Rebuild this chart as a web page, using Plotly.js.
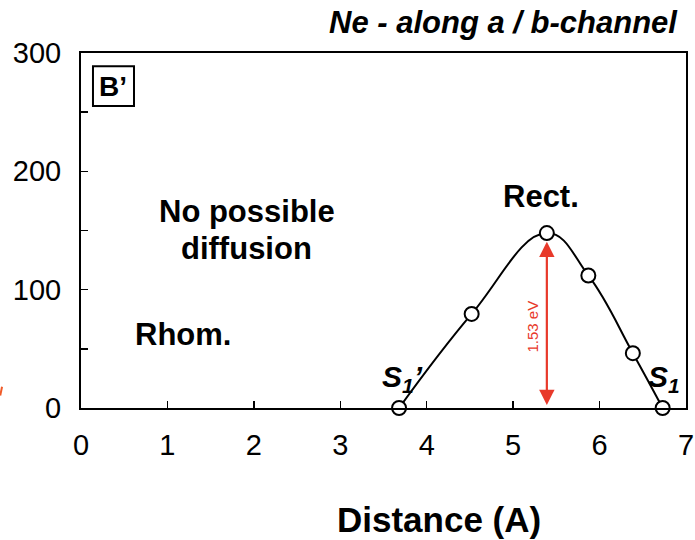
<!DOCTYPE html>
<html>
<head>
<meta charset="utf-8">
<script src="https://cdn.plot.ly/plotly-3.0.1.min.js"></script>
<style>html,body{margin:0;padding:0;background:#fff;}#chart{width:695px;height:540px;}</style>
</head>
<body>
<div id="chart"></div>
<script>
// Data
var distance = [3.68, 4.52, 5.39, 5.87, 6.385, 6.73];
var energy = [0, 79.5, 147.8, 112, 46.3, 0];
var xTicks = [0, 1, 2, 3, 4, 5, 6, 7];
var yTicks = [0, 100, 200, 300];
var barrierLabel = '1.53 eV';
var barrierX = 5.39;
var barrierTop = 147.8;
var chartTitle = 'Ne - along a / b-channel';
var xTitle = 'Distance (A)';

var font = 'Liberation Sans, Arial, Helvetica, sans-serif';
var red = '#e8392a';

var trace = {
  x: distance, y: energy,
  mode: 'lines+markers',
  line: {shape: 'spline', smoothing: 1.2, color: '#000', width: 2},
  marker: {symbol: 'circle', size: 14, color: '#fff', line: {color: '#000', width: 2}},
  cliponaxis: false,
  hoverinfo: 'skip'
};

var layout = {
  width: 695, height: 540,
  margin: {l: 81, r: 9, t: 53, b: 132},
  paper_bgcolor: '#fff', plot_bgcolor: '#fff',
  showlegend: false,
  font: {family: font, color: '#000'},
  xaxis: {
    range: [0, 7], tickvals: xTicks, ticks: 'inside', ticklen: 7, tickwidth: 1.5, tickcolor: '#000',
    showline: true, linecolor: '#000', linewidth: 2, mirror: true, showgrid: false, zeroline: false,
    tickfont: {size: 29, family: font}, ticklabelstandoff: 10, fixedrange: true
  },
  yaxis: {
    range: [0, 300], tickvals: yTicks, ticks: 'inside', ticklen: 7, tickwidth: 1.5, tickcolor: '#000',
    minor: {dtick: 50, ticks: 'inside', ticklen: 7, tickwidth: 1.5, tickcolor: '#000', showgrid: false},
    showline: true, linecolor: '#000', linewidth: 2, mirror: true, showgrid: false, zeroline: false,
    tickfont: {size: 29, family: font}, ticklabelstandoff: 12, fixedrange: true
  },
  shapes: [
    {type: 'rect', xref: 'paper', yref: 'paper', x0: 0.0198, x1: 0.0876, y0: 0.851, y1: 0.963,
     line: {color: '#000', width: 2}, fillcolor: 'rgba(0,0,0,0)'},
    {type: 'line', xref: 'paper', yref: 'paper', x0: -0.1305, x1: -0.1335, y0: 0.06, y1: 0.035,
     line: {color: '#f05a28', width: 2}}
  ],
  annotations: [
    {xref: 'paper', yref: 'paper', x: 0.99, y: 1.087, xanchor: 'right', yanchor: 'middle',
     text: '<b><i>' + chartTitle + '</i></b>', showarrow: false, font: {size: 31, family: font}},
    {xref: 'paper', yref: 'paper', x: 0.0537, y: 0.907, xanchor: 'center', yanchor: 'middle',
     text: '<b>B’</b>', showarrow: false, font: {size: 28, family: font}},
    {xref: 'paper', yref: 'paper', x: 0.592, y: -0.315, xanchor: 'center', yanchor: 'middle',
     text: '<b>' + xTitle + '</b>', showarrow: false, font: {size: 35, family: font}},
    {xref: 'x', yref: 'y', x: 1.92, y: 166, xanchor: 'center', yanchor: 'middle',
     text: '<b>No possible</b>', showarrow: false, font: {size: 31, family: font}},
    {xref: 'x', yref: 'y', x: 1.92, y: 135, xanchor: 'center', yanchor: 'middle',
     text: '<b>diffusion</b>', showarrow: false, font: {size: 31, family: font}},
    {xref: 'x', yref: 'y', x: 1.18, y: 62, xanchor: 'center', yanchor: 'middle',
     text: '<b>Rhom.</b>', showarrow: false, font: {size: 31, family: font}},
    {xref: 'x', yref: 'y', x: 5.32, y: 179, xanchor: 'center', yanchor: 'middle',
     text: '<b>Rect.</b>', showarrow: false, font: {size: 31, family: font}},
    {xref: 'x', yref: 'y', x: 3.72, y: 25, xanchor: 'center', yanchor: 'middle',
     text: '<b><i>S<sub>1</sub>’</i></b>', showarrow: false, font: {size: 30, family: font}},
    {xref: 'x', yref: 'y', x: 6.75, y: 25, xanchor: 'center', yanchor: 'middle',
     text: '<b><i>S<sub>1</sub></i></b>', showarrow: false, font: {size: 30, family: font}},
    {xref: 'x', yref: 'y', x: 5.22, y: 69, xanchor: 'center', yanchor: 'middle', textangle: -90,
     text: barrierLabel, showarrow: false, font: {size: 15, family: font, color: red}},
    {xref: 'x', yref: 'y', axref: 'x', ayref: 'y', x: barrierX, y: 2.5, ax: barrierX, ay: barrierTop - 6,
     text: '', showarrow: true, arrowside: 'end+start', arrowhead: 2, arrowsize: 1.4, arrowwidth: 2.2,
     arrowcolor: red, standoff: 0, startstandoff: 0}
  ]
};

Plotly.newPlot('chart', [trace], layout, {displayModeBar: false, staticPlot: true});
</script>
</body>
</html>
